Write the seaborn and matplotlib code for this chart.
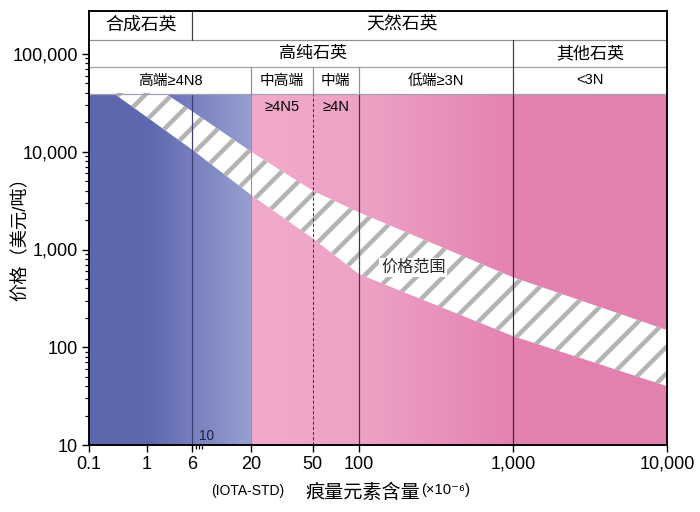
import matplotlib
matplotlib.use("Agg")
import matplotlib.pyplot as plt
import matplotlib.transforms as mtransforms
import numpy as np
import seaborn as sns
from matplotlib.ticker import FixedFormatter, FixedLocator, NullFormatter

# price band edges (x: trace element content ×10^-6, y: USD/t)
upper_x = [2.0, 6, 20, 50, 100, 1000, 10000]
upper_price = [40000, 26000, 10000, 4000, 2400, 520, 150]
lower_x = [0.26, 6, 20, 50, 100, 1000, 10000]
lower_price = [40000, 10500, 3600, 1300, 560, 130, 40]

x_ticks = [0.1, 1, 6, 20, 50, 100, 1000, 10000]
x_tick_labels = ["0.1", "1", "6", "20", "50", "100", "1,000", "10,000"]
x_minor = [7, 8, 9]
y_ticks = [10, 100, 1000, 10000, 100000]
y_tick_labels = ["10", "100", "1,000", "10,000", "100,000"]
y_minor = [k * 10 ** n for n in range(1, 5) for k in range(2, 10)]

# header table: (label, start, end, label x or None for centre)
row1 = [("合成石英", 0.1, 6, None), ("天然石英", 6, 10000, 190)]
row2 = [("高纯石英", 0.1, 1000, 50), ("其他石英", 1000, 10000, None)]
row3 = [("高端≥4N8", 0.1, 20, None), ("中高端", 20, 50, None), ("中端", 50, 100, None),
        ("低端≥3N", 100, 1000, None), ("<3N", 1000, 10000, None)]
sub_labels = [("≥4N5", 20, 50), ("≥4N", 50, 100)]

# broken log axis: 0.1-10 compressed, 10-10000 normal
R = 58 / 154


def fwd(x):
    x = np.asarray(x, dtype=float)
    lx = np.log10(np.clip(x, 1e-9, None))
    return np.where(lx < 1, 1 + (lx - 1) * R, lx)


def inv(t):
    t = np.asarray(t, dtype=float)
    return np.where(t < 1, 10 ** (1 + (t - 1) / R), 10 ** np.clip(t, -10, 10))


def mid(a, b):
    return float(inv((fwd(a) + fwd(b)) / 2))


# dpi picked so the hatch stripe spacing matches; sizes below are scaled to it
DPI = 160
P = 125 / DPI


def pt(v):
    return v * P


sns.set_theme(style="ticks")
plt.rcParams["font.family"] = ["Liberation Sans", "Noto Sans CJK SC", "DejaVu Sans"]
plt.rcParams["hatch.linewidth"] = pt(2.6)

fig = plt.figure(figsize=(700 / DPI, 512 / DPI), dpi=DPI, facecolor="white")
rect = [89 / 700, 67 / 512, 578 / 700, 434 / 512]

# header row boundaries in axes fraction
h_row3 = (445 - 94) / 434
h_row2 = (445 - 67) / 434
h_row1 = (445 - 40) / 434

# background gradient
ax_bg = fig.add_axes(rect, zorder=0)
ax_bg.axis("off")
t0, t1 = float(fwd(0.1)), float(fwd(10000))
tt = np.linspace(t0, t1, 800)
blue_t = fwd([0.1, 1.2, 20])
blue_c = np.array([[94, 102, 174], [96, 104, 176], [152, 160, 210]]) / 255
pink_t = fwd([20, 100, 1000, 10000])
pink_c = np.array([[242, 170, 202], [238, 162, 198], [228, 130, 178], [226, 128, 176]]) / 255
cols = np.zeros((1, tt.size, 3))
for i in range(3):
    b = np.interp(tt, blue_t, blue_c[:, i])
    p = np.interp(tt, pink_t, pink_c[:, i])
    cols[0, :, i] = np.where(tt < fwd(20), b, p)
ax_bg.imshow(cols, extent=(0, 1, 0, h_row3), aspect="auto", interpolation="bilinear")
ax_bg.set_xlim(0, 1)
ax_bg.set_ylim(0, 1)

ax = fig.add_axes(rect, zorder=1)
ax.patch.set_alpha(0)
ax.set_xscale("function", functions=(fwd, inv))
ax.set_yscale("log")
trans = mtransforms.blended_transform_factory(ax.transData, ax.transAxes)

# price band
band_x = lower_x + upper_x[::-1]
band_y = lower_price + upper_price[::-1]
ax.fill(band_x, band_y, facecolor="white", edgecolor="#b4b4b4", hatch="//", linewidth=0, zorder=2)
ax.text(225, 660, "价格范围", fontsize=pt(9.3), ha="center", va="center", zorder=5,
        bbox=dict(facecolor="white", edgecolor="none", pad=pt(1.0)))

# vertical separators in the plot area
ax.axvline(6, 0, h_row3, color="#3c4070", lw=pt(0.7), zorder=3)
ax.axvline(20, 0, h_row3, color="#9a8ab8", lw=pt(0.6), zorder=3)
ax.axvline(50, 0, h_row3, color="#503048", lw=pt(0.6), ls=(0, (3, 2)), zorder=3)
ax.axvline(100, 0, h_row3, color="#483040", lw=pt(0.7), zorder=3)
ax.axvline(1000, 0, h_row3, color="#402838", lw=pt(0.7), zorder=3)

# header grid
for h, c in ((h_row3, "#a0a0b0"), (h_row2, "#a0a0a0"), (h_row1, "#909090")):
    ax.plot([0.1, 10000], [h, h], transform=trans, color=c, lw=pt(0.7), zorder=4)
ax.axvline(6, h_row1, 1, color="#404040", lw=pt(0.7), zorder=4)
ax.axvline(1000, h_row3, h_row1, color="#404040", lw=pt(0.7), zorder=4)
for xv in (20, 50, 100):
    ax.axvline(xv, h_row3, h_row2, color="#909090", lw=pt(0.7), zorder=4)

for rows, y, fs in ((row1, (h_row1 + 1) / 2, 10.3), (row2, (h_row2 + h_row1) / 2, 9.8),
                    (row3, (h_row3 + h_row2) / 2, 8.5)):
    for label, a, b, lx in rows:
        xc = lx if lx is not None else mid(a, b)
        ax.text(xc, y, label, transform=trans, ha="center", va="center", fontsize=pt(fs),
                color="black")
for label, a, b in sub_labels:
    ax.text(mid(a, b), (445 - 107) / 434, label, transform=trans, ha="center", va="center",
            fontsize=pt(8.5), color="black", zorder=5)

ax.set_xlim(0.1, 10000)
ax.set_ylim(10, 10 ** (1 + 434 / 97.75))

ax.xaxis.set_major_locator(FixedLocator(x_ticks))
ax.xaxis.set_major_formatter(FixedFormatter(x_tick_labels))
ax.xaxis.set_minor_locator(FixedLocator(x_minor))
ax.xaxis.set_minor_formatter(NullFormatter())
ax.yaxis.set_major_locator(FixedLocator(y_ticks))
ax.yaxis.set_major_formatter(FixedFormatter(y_tick_labels))
ax.yaxis.set_minor_locator(FixedLocator(y_minor))
ax.yaxis.set_minor_formatter(NullFormatter())
ax.tick_params(which="major", direction="out", length=pt(4.2), width=pt(0.8),
               labelsize=pt(10.4), pad=pt(2), colors="black")
ax.tick_params(which="minor", direction="out", length=pt(2.2), width=pt(0.7), colors="black")
for s in ax.spines.values():
    s.set_color("black")
    s.set_linewidth(pt(1.1))
    s.set_zorder(6)

# small "10" mark at the axis break
ax.text(10.3, 10.4, "10", ha="center", va="bottom", fontsize=pt(7.8), color="#202040", zorder=5)
ax.text(19, (445 - 491) / 434, "(IOTA-STD)", transform=trans, ha="center", va="center",
        fontsize=pt(8), color="black")

# axis titles
ax.text(-0.118, 0.484, "价格（美元/吨）", transform=ax.transAxes, rotation=90,
        ha="center", va="center", fontsize=pt(10.5), color="black")
ax.text((420 - 89) / 578, (445 - 493) / 434, "痕量元素含量", transform=ax.transAxes,
        ha="right", va="center", fontsize=pt(11), color="black")
ax.text((421 - 89) / 578, (445 - 490) / 434, "(×10⁻⁶)", transform=ax.transAxes,
        ha="left", va="center", fontsize=pt(8.5), color="black")

fig.savefig("out.png", dpi=DPI, facecolor="white")
